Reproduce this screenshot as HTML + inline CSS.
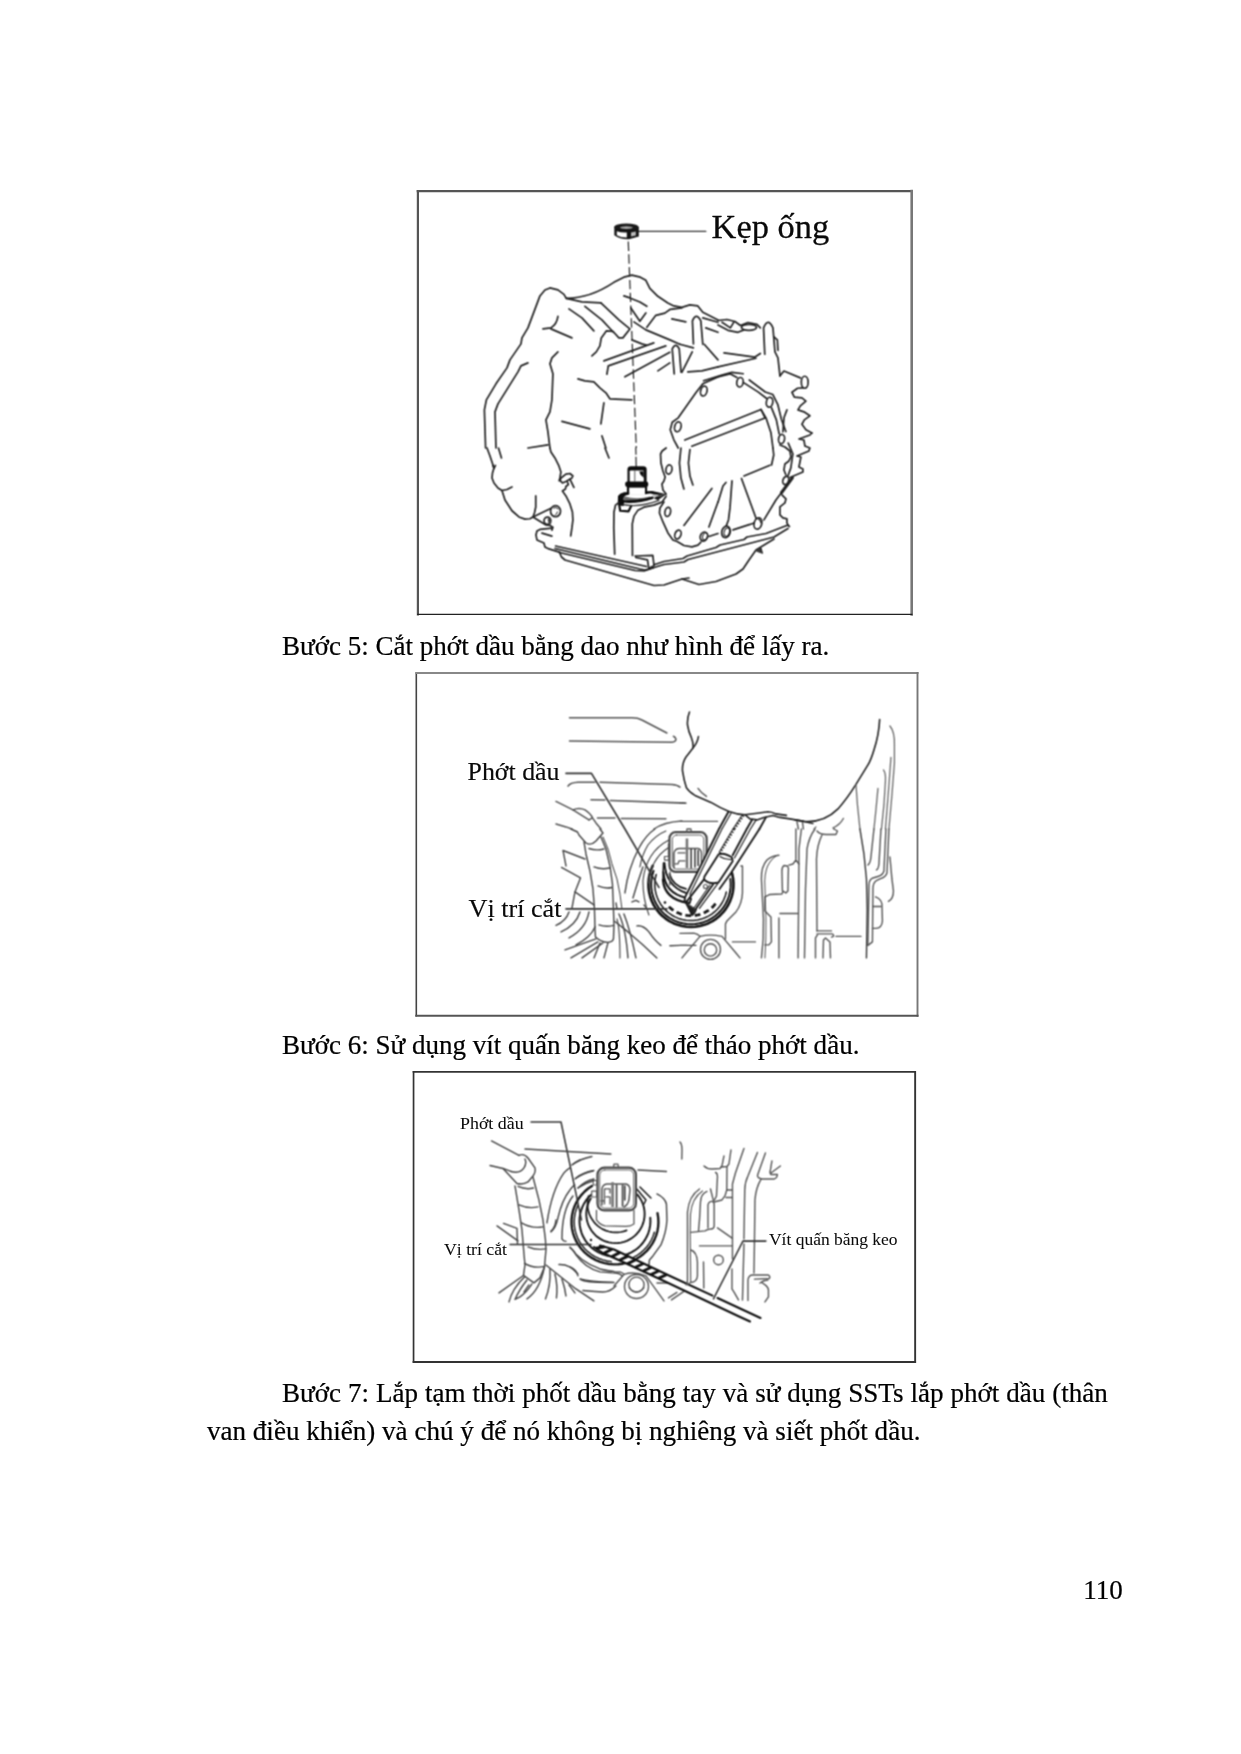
<!DOCTYPE html>
<html lang="vi">
<head>
<meta charset="utf-8">
<title>Trang 110</title>
<style>
html,body{margin:0;padding:0;background:#fff;}
body{width:1241px;height:1754px;position:relative;overflow:hidden;font-family:"Liberation Serif","DejaVu Serif",serif;color:#000;}
.t{position:absolute;white-space:nowrap;filter:grayscale(1);-webkit-text-stroke:0.22px #000;font-size:27.04px;line-height:30px;margin:0;}
svg{position:absolute;left:0;top:0;}
svg text{font-family:"Liberation Serif","DejaVu Serif",serif;fill:#0a0a0a;stroke:#0a0a0a;stroke-width:0;}
</style>
</head>
<body>
<p class="t" id="l5" style="left:282px;top:631px;">Bước 5: Cắt phớt dầu bằng dao như hình để lấy ra.</p>
<p class="t" id="l6" style="left:282px;top:1030px;">Bước 6: Sử dụng vít quấn băng keo để tháo phớt dầu.</p>
<p class="t" id="l7a" style="word-spacing:0.2px;left:282px;top:1378px;">Bước 7: Lắp tạm thời phốt dầu bằng tay và sử dụng SSTs lắp phớt dầu (thân</p>
<p class="t" id="l7b" style="word-spacing:0.07px;left:207px;top:1416px;">van điều khiển) và chú ý để nó không bị nghiêng và siết phốt dầu.</p>
<p class="t" id="pn" style="left:1083.3px;top:1575px;">110</p>
<svg id="art" width="1241" height="1754" viewBox="0 0 1241 1754" fill="none" stroke-linecap="round" stroke-linejoin="round">
<defs><filter id="b" x="-2%" y="-2%" width="104%" height="104%" color-interpolation-filters="sRGB"><feConvolveMatrix order="3" kernelMatrix="1 2 1 2 4 2 1 2 1" divisor="16" edgeMode="none" preserveAlpha="false"/></filter></defs>
<g id="frames" stroke-linecap="square">
<path d="M417.9 191 V614.4" stroke="#555" stroke-width="2.2"/><path d="M417.9 191.1 H911.7" stroke="#555" stroke-width="2.4"/><path d="M911.7 191.1 V614.4" stroke="#777" stroke-width="2.6"/><path d="M417.9 614.4 H911.7" stroke="#222" stroke-width="1.4"/>
<path d="M416.3 673 V1015.8" stroke="#444" stroke-width="1.6"/><path d="M416.3 673 H917.5" stroke="#888" stroke-width="1.9"/><path d="M917.5 673 V1015.8" stroke="#777" stroke-width="1.9"/><path d="M416.3 1015.8 H917.5" stroke="#555" stroke-width="2"/>
<path d="M413.55 1071.9 V1362" stroke="#333" stroke-width="1.7"/><path d="M413.55 1071.9 H915.15" stroke="#333" stroke-width="1.7"/><path d="M915.15 1071.9 V1362" stroke="#333" stroke-width="1.9"/><path d="M413.55 1362 H915.15" stroke="#333" stroke-width="1.8"/>
</g>

<g filter="url(#b)">
<g transform="translate(594,324) scale(0.19984)" stroke="#222" stroke-width="8.5">
<path d="M548 284 L640 256 L690 242 L747 249"/>
<path d="M777 280 L857 340 L895 353 L920 404 L938 478 L960 538"/>
<path d="M972 596 L995 650 L985 720 L970 762"/>
</g>
<g transform="translate(470,200) scale(0.19984)" stroke="#222" stroke-width="8.5">
<path d="M843 157 L1180 157" stroke-width="7.5" stroke="#333"/>
<path d="M792 208 L832 1241" stroke-width="6" stroke-dasharray="47 17" stroke-linecap="butt"/>
<!-- main outline -->
<path d="M78 1241 L72 1050 L82 1000 L130 920 L185 840 L200 800 L255 720 L260 690 L290 640 L320 560 L350 480 L375 450 L400 440 L440 450 L470 472 L482 492 Q600 492 720 412 L770 386 L810 376 L852 386 L880 402 L900 442 L940 482 L990 515 L1020 530 L1060 537 L1100 525 L1140 530 L1165 562 L1241 600"/>
<path d="M130 1241 L125 1060 L140 1020 L190 940 L240 860 L255 830 L290 815"/>
<!-- inner lines upper-left -->
<path d="M365 645 L405 640 Q435 620 440 582"/>
<path d="M405 645 L510 690"/>
<path d="M495 545 L560 590 L620 655"/>
<path d="M575 532 L660 600 L718 662"/>
<path d="M655 515 L745 600 L800 645 L765 690 L745 690 L715 657 L682 655 L657 690 L650 730 L632 760 L610 780"/>
<path d="M482 492 L560 510 L655 515"/>
<path d="M770 480 L800 490 L850 510 L885 532"/>
<path d="M805 540 L850 607 L880 565"/>
<path d="M885 637 L930 577 L975 566 L1002 547 L1060 540"/>
<path d="M1010 595 L1080 610"/>
<path d="M820 610 L880 650 L1000 700 L1050 722"/>
<path d="M810 700 L860 720 L882 726"/>
<path d="M670 805 L920 715"/>
<path d="M685 872 L692 830 L980 730"/>
<path d="M775 885 L1000 762"/>
<path d="M940 855 L1000 815"/>
<!-- pins -->
<path d="M1118 720 L1113 605 Q1132 560 1155 605 L1165 722"/>
<path d="M1022 870 L1012 745 Q1030 710 1047 745 L1056 862"/>
<path d="M1060 862 L1112 760"/>
<path d="M1090 860 L1160 855 L1241 835"/>
<path d="M1165 590 L1241 612"/>
<path d="M1180 640 L1241 662"/>
<path d="M1172 722 L1241 800"/>
<path d="M1050 722 L1118 740"/>
<!-- cover top-left -->
<path d="M1241 885 L1165 920 L1132 962 L1042 1090 L1012 1112 L1002 1150 L1020 1200 L1042 1241"/>
<ellipse cx="1170" cy="956" rx="16" ry="25" transform="rotate(15 1170 956)"/>
<ellipse cx="1040" cy="1135" rx="16" ry="25" transform="rotate(15 1040 1135)"/>
<!-- middle -->
<path d="M540 895 L575 905 L620 910 L650 940 L680 965 L700 995 L810 1000"/>
<path d="M670 1015 L655 1120"/>
<path d="M660 1180 L680 1241"/>
<path d="M460 1108 L600 1145"/>
<path d="M440 760 L410 790 L400 820 L415 870 L410 1000 L400 1060 L380 1100 L390 1160 L400 1241"/>
<path d="M290 1241 L390 1225"/>
</g>
<g transform="translate(718,200) scale(0.19984)" stroke="#222" stroke-width="8.5">
<!-- flange top-left -->
<path d="M0 603 L45 598 L85 608 L112 628 L150 613 L195 622 L212 640"/>
<ellipse cx="155" cy="637" rx="38" ry="15"/>
<path d="M0 625 L50 652 L100 662 L130 650"/>
<path d="M20 612 L62 640 L80 610"/>
<!-- tall pin -->
<path d="M234 772 L228 640 Q250 585 275 640 L285 760 L300 790 L310 880"/>
<path d="M280 685 L297 700 L300 752"/>
<path d="M30 765 L185 786 L212 768"/>
<path d="M0 835 L190 792"/>
<!-- cover top edge with bolts -->
<path d="M0 885 L60 870 L95 888"/>
<ellipse cx="110" cy="912" rx="16" ry="24" transform="rotate(10 110 912)"/>
<path d="M130 915 L200 960 L242 992"/>
<ellipse cx="258" cy="1012" rx="16" ry="25" transform="rotate(10 258 1012)"/>
<path d="M268 1040 L292 1100 L306 1170"/>
<ellipse cx="318" cy="1196" rx="15" ry="23" transform="rotate(10 318 1196)"/>
<path d="M215 1048 L240 1090 L265 1165 L275 1241"/>
<!-- right ribbed outline -->
<path d="M310 880 L330 856 L412 890"/>
<ellipse cx="434" cy="912" rx="17" ry="30"/>
<path d="M425 940 L398 942 L370 962 L382 986 L420 990 L440 1006 L412 1030 L400 1050 L430 1060 L460 1080 L432 1100 L420 1122 L440 1150 L470 1166"/>
<path d="M345 1050 L330 1090 L325 1160"/>
</g>
<g transform="translate(470,448) scale(0.09992)" stroke="#222" stroke-width="17.0">
<path d="M170 0 L200 80 L240 200 L225 250 L220 300 L240 350 L280 400 L320 425 L350 520 L420 628 L490 690 L550 712 L600 708 L630 690 L645 650 L658 590 L658 480"/>
<path d="M320 425 L370 415 L420 390"/>
<path d="M285 0 L315 100"/>
<path d="M228 170 L240 205 L255 175"/>
<path d="M800 0 L810 40 L850 100 L890 180 L910 240 L900 300 L892 328"/>
<path d="M905 305 L960 262 L1000 255 L1030 280 L1020 300 L960 335 L925 350 L905 330 Z"/>
<path d="M1000 312 L1040 395"/>
<path d="M975 340 L985 365 L960 385 L955 410 L925 430 L960 480 L1000 560 L1025 640 L1030 720 L1020 800 L1008 880"/>
<ellipse cx="856" cy="632" rx="50" ry="56"/>
<path d="M835 600 Q860 585 885 610 M875 640 Q870 665 850 675" stroke-width="10"/>
<path d="M630 690 L812 602"/>
<path d="M630 690 L760 770 L800 775 L830 792 L820 822"/>
<ellipse cx="775" cy="728" rx="34" ry="36"/>
<path d="M790 715 L800 755" stroke-width="26" stroke="#444"/>
<path d="M820 802 L700 815 L670 830 L660 870 L670 920 L740 950 L750 990 L790 1010 L900 1045"/>
<path d="M720 852 L820 882"/>
</g>
<g transform="translate(594,448) scale(0.09992)" stroke="#222" stroke-width="17.0">
<path d="M110 0 L130 50 L150 100"/>
<path d="M418 0 L420 62 M420 92 L422 185" stroke-width="12"/>
<!-- plug -->
<g stroke="none" fill="#0c0c0c">
<path d="M335 345 L335 215 Q335 183 370 183 L492 183 Q527 183 527 215 L527 345 Z"/>
<rect x="357" y="224" width="141" height="118" rx="8" fill="#fff"/>
<path d="M453 236 L498 232 L498 298 L466 268 Z"/>
<rect x="404" y="224" width="9" height="112" fill="#444"/>
<rect x="312" y="335" width="231" height="56" rx="22"/>
<rect x="329" y="385" width="203" height="76"/>
<rect x="352" y="397" width="158" height="66" fill="#fff"/>
<!-- flange ring -->
<path d="M352 440 L300 444 Q255 455 240 480 L238 560 Q262 585 300 578 L300 520 Q290 490 318 476 L352 466 Z"/>
<path d="M510 432 L583 430 L726 462 L640 520 L600 505 L650 470 L560 455 L510 462 Z"/>
<path d="M300 484 Q430 520 562 486 L575 500 Q430 552 290 520 Z" fill="#6a6a6a"/>
</g>
<g stroke="#0c0c0c" fill="none">
<path d="M262 530 Q420 552 585 498" stroke-width="26"/>
<path d="M252 566 L262 628 L346 634 L372 580" stroke-width="22"/>
<path d="M590 470 L700 468 M600 492 L680 480" stroke-width="9" stroke="#666"/>
<path d="M290 566 Q450 600 650 525" stroke-width="14" stroke="#3a3a3a"/>
</g>
<!-- tower -->
<path d="M207 1062 L198 800 L200 640 L215 572 L250 545"/>
<path d="M385 1076 L383 760 L400 682 L440 622 L500 592 L600 572 L680 542 L722 482"/>
<!-- cover left edge -->
<path d="M722 0 L682 30 L666 60 L670 150 L690 230 L712 290 L700 330 L680 360 L690 420 L722 460"/>
<path d="M700 540 L660 600 L655 650 L690 740 L740 850 L790 920 L832 936 L900 976 L980 990 L1040 972 L1070 942"/>
<ellipse cx="750" cy="215" rx="30" ry="46" transform="rotate(12 750 215)"/>
<ellipse cx="738" cy="640" rx="28" ry="46" transform="rotate(12 738 640)"/>
<ellipse cx="840" cy="866" rx="30" ry="46" transform="rotate(20 840 866)"/>
<ellipse cx="1100" cy="886" rx="36" ry="46" transform="rotate(20 1100 886)"/>
<ellipse cx="1112" cy="884" rx="24" ry="36" transform="rotate(20 1112 884)" stroke-width="10"/>
<path d="M1150 886 L1241 856"/>
<path d="M870 0 L855 150 L870 300 L900 410"/>
<path d="M960 15 L945 150 L960 280 L990 370"/>
<path d="M1180 405 L900 775"/>
<path d="M1241 540 L1150 790"/>
</g>
<g transform="translate(700,430) scale(0.09992)" stroke="#222" stroke-width="17.0">
<path d="M730 180 L738 250 L716 350"/>
<path d="M700 352 L440 460"/>
<path d="M415 485 L560 880"/>
<path d="M320 510 L300 780 L285 900 L262 962"/>
<path d="M260 525 L230 560 L181 720"/>
<ellipse cx="580" cy="935" rx="38" ry="58" transform="rotate(15 580 935)"/>
<path d="M560 890 Q600 880 610 930" stroke-width="12"/>
<ellipse cx="260" cy="1020" rx="42" ry="58" transform="rotate(15 260 1020)"/>
<ellipse cx="268" cy="1022" rx="26" ry="42" transform="rotate(15 268 1022)" stroke-width="11"/>
<path d="M330 1000 L500 945 L540 930"/>
<path d="M640 900 L760 700 L820 620"/>
<path d="M815 628 L925 478" stroke-width="30"/>
<path d="M800 150 L850 170 L900 210 L910 270 L890 310 L850 340 L840 400 L860 450"/>
<ellipse cx="858" cy="505" rx="28" ry="42" transform="rotate(20 858 505)"/>
<path d="M1120 30 L1100 50 L990 90 L1040 100 L1050 160 L1100 180 L1090 210 L970 260 L1010 270 L990 370 L1030 390 L1030 420 L900 475"/>
<path d="M820 650 L860 690 L850 730 L800 770 L800 850 L830 880 L870 890 L870 930 L885 960"/>
</g>
<g transform="translate(0,0) scale(1.00000)" stroke="#222" stroke-width="1.7">
<path d="M555.5 546 L646.5 566.5"/>
<path d="M555 548.5 L640 569 L645 570 L654 567.5"/>
<path d="M559.5 552.5 L635 570.5 L644 571 L653 568"/>
<path d="M559.5 552.5 L561.5 557 L565 560 L654 585.5 L664 585 L682 579 L699 584.5 L716 581.5 L736 574 L743 569 L749 560 L756 550 L760 547.5 L774 539"/>
<path d="M682 579 L689 578"/>
<path d="M635 556 L652.8 555.3 L654 565.5 L648.8 568.5 L647.5 559.8 L635.8 557.5"/>
<path d="M654 564.8 L664 561.5 L683 558.5 L687 556 L716 547.5 L720 545 L744 539.5 L747 537 L766 533.5 L788 525 L789.5 526.5"/>
<path d="M654 567.5 L664 564.5 L684 562 L688 559.5 L774 537 L788 528.5"/>
<path d="M757 551 L761 548 L762.5 553 Z" fill="#333" stroke-width="1"/>
<path d="M684.8 440 L761 409.5 L765 418"/>
<path d="M691.8 446.2 L765 418"/>
<g stroke="none">
<path d="M614.3 227 L614.3 235.2 Q620 239.6 629 239.3 L638.8 236.6 L638.8 227 Z" fill="#141414"/>
<ellipse cx="626.4" cy="227" rx="12.2" ry="3.5" fill="#181818"/>
<ellipse cx="626.4" cy="227.6" rx="6.4" ry="1.3" fill="#a8a8a8"/>
<path d="M616.8 231.2 Q621.5 232.8 626.8 232.4 L626.8 237.4 Q621 237.6 616.8 235.2 Z" fill="#fff"/>
<path d="M631 232.4 L635.8 231.6 L635.8 235.6 L631 236.6 Z" fill="#bbb"/>
</g>
</g>
<g transform="translate(630,820) scale(0.09992)" stroke="#222" stroke-width="17.0">
<!-- seal rings: center (610,645) -->
<g stroke="#161616">
<path d="M1010.3 499.3 L1023.5 542.7 L1032.1 587.3 L1035.8 632.5 L1034.7 677.9 L1028.8 722.9 L1018.1 767.0 L1002.8 809.8 L983.1 850.6 L959.1 889.2 L931.1 924.9 L899.5 957.5 L864.6 986.5 L826.8 1011.7 L786.6 1032.7 L744.3 1049.3 L700.5 1061.3 L655.7 1068.5 L610.4 1071.0 L565.1 1068.6 L520.3 1061.4 L476.4 1049.5 L434.2 1033.0 L393.9 1012.1 L356.0 987.0 L321.1 958.1 L289.4 925.5 L261.4 889.8 L237.3 851.4 L217.5 810.5 L202.1 767.8 L191.3 723.7 L185.3 678.7 L184.2 633.3 L187.8 588.1 L196.3 543.5 L209.4 500.1 L227.1 458.3" stroke-width="26"/>
<path d="M1004.1 589.6 L1007.8 631.9 L1006.9 674.4 L1001.5 716.5 L991.7 757.8 L977.5 797.9 L959.1 836.2 L936.7 872.3 L910.6 905.8 L881.1 936.4 L848.5 963.6 L813.2 987.2 L775.6 1006.9 L736.1 1022.5 L695.1 1033.8 L653.2 1040.6 L610.8 1043.0 L568.4 1040.8 L526.5 1034.1 L485.5 1023.0 L445.9 1007.6 L408.2 988.0 L372.8 964.6 L340.1 937.5 L310.4 907.0 L284.2 873.6 L261.7 837.6 L243.2 799.4 L228.8 759.4 L218.8 718.1 L213.2 676.0 L212.2 633.6 L215.6 591.2 L223.6 549.5 L236.0 508.9" stroke-width="20"/>
<path d="M964.1 720.3 L954.0 757.7 L940.0 793.8 L922.2 828.2 L900.9 860.5 L876.2 890.3 L848.4 917.4 L818.0 941.3 L785.1 961.8 L750.3 978.7 L713.8 991.8 L676.2 1000.9 L637.8 1005.9 L599.1 1006.8 L560.5 1003.6 L522.4 996.2 L485.4 984.9 L449.8 969.6 L416.0 950.6 L384.5 928.2 L355.5 902.5 L329.5 873.8 L306.6 842.5 L287.3 809.0 L271.6 773.5 L259.8 736.7 L252.0 698.7 L248.3 660.2 L248.8 621.4 L253.4 583.0 L262.0 545.2" stroke-width="15"/>
<path d="M856.6 837.7 L835.2 862.4 L811.2 884.8 L785.0 904.5 L756.9 921.4 L727.3 935.2 L696.3 945.9 L664.4 953.2 L631.8 957.2 L599.1 957.8 L566.4 955.0 L534.3 948.7 L502.9 939.1 L472.8 926.3 L444.1 910.4 L417.3 891.6 L392.6 870.2 L370.2 846.2" stroke-width="28" stroke-dasharray="58 36" stroke-linecap="butt"/>
<circle cx="350" cy="826" r="13" fill="#161616" stroke="none"/>
<!-- inner plug arcs -->
<path d="M330 600 Q345 790 575 830" stroke-width="23"/>
<path d="M335 520 Q345 730 565 780" stroke-width="21"/>
<path d="M345 430 Q360 660 560 730" stroke-width="19"/>
<path d="M395 540 Q430 660 560 690" stroke-width="17"/>
<path d="M330 600 L335 430" stroke-width="15.2"/>
</g>
<!-- connector -->
<g stroke="#555">
<rect x="395" y="122" width="372" height="398" rx="62" stroke-width="22" stroke="#484848"/>
<rect x="424" y="151" width="314" height="340" rx="42" stroke-width="9"/>
<path d="M565 122 L570 90 L610 90 L615 122" stroke-width="12.7"/>
<path d="M440 480 L440 335 Q445 290 490 285 L680 285 Q712 290 715 335 L715 470" stroke-width="15.2"/>
<path d="M570 185 L570 480" stroke-width="26" stroke="#777" stroke-linecap="butt"/>
<path d="M612 290 L612 480 M650 295 L650 470 M682 305 L682 455" stroke-width="15.2" stroke="#333"/>
<path d="M480 330 L550 330 M450 440 L480 440 L490 410 L550 410" stroke-width="12.7"/>
<rect x="345" y="365" width="45" height="36" stroke-width="11.4"/>
<path d="M385 240 L385 360" stroke-width="12.7"/>
<path d="M400 520 L398 650" stroke-width="12.7"/>
</g>
</g>
<g transform="translate(556,705) scale(0.09992)" stroke="#222" stroke-width="17.0">
<g stroke="#555" stroke-width="15.2">
<path d="M135 128 L760 128 Q820 128 860 150 L1110 280"/>
<path d="M135 360 L1160 372 Q1200 370 1200 340 Q1195 320 1175 312"/>
<path d="M120 812 Q140 775 220 772 L390 772 M440 772 L1160 795 Q1215 800 1241 822"/>
<path d="M350 948 L490 950 M545 955 L1300 982"/>
<path d="M415 1130 L590 1132 M655 1135 L1100 1138"/>
<path d="M0 965 L170 1050 L250 1100 L330 1150"/>
<path d="M170 1050 Q230 1020 290 1050 Q350 1090 365 1130 L330 1150"/>
<path d="M365 1130 L400 1180 L450 1241"/>
<path d="M0 1190 L100 1220 L160 1241"/>
<path d="M980 1241 Q1080 1170 1260 1160"/>
</g>
<path d="M100 685 L355 685 L690 1241 L1030 1826" stroke="#333" stroke-width="16.5"/>
</g>
<g transform="translate(680,705) scale(0.09992)" stroke="#222" stroke-width="17.0">
<g stroke="#222" stroke-width="16">
<path d="M95 70 Q70 130 75 200 Q85 270 115 330 Q135 380 130 430 Q100 470 60 520 Q20 580 25 660 Q40 760 65 830 Q90 870 150 905 L310 975 Q400 1030 490 1065 Q570 1095 650 1098 Q780 1085 880 1068 Q920 1070 960 1090 L1065 1105"/>
<path d="M650 1098 L700 1140 L770 1150 L840 1125 L930 1105 L1000 1125 L1100 1140 L1241 1165 L1330 1185"/>
<path d="M185 315 Q175 380 130 430" stroke-width="15.2"/>
</g>
<g stroke="#555" stroke-width="14">
<path d="M180 835 Q210 880 265 915"/>
<path d="M0 980 L40 980"/>
<path d="M0 1165 L375 1165"/>
<path d="M1170 1165 L1185 1241"/>
<path d="M1225 1170 L1235 1241"/>
</g>
<!-- knife upper -->
<g stroke="#1c1c1c" stroke-width="19">
<path d="M485 1068 L390 1241"/>
<path d="M512 1080 L420 1241" stroke-width="11.4"/>
<path d="M635 1105 L545 1241" stroke-width="22" stroke-dasharray="14 16" stroke-linecap="butt"/>
<path d="M622 1100 L530 1241" stroke-width="10.2"/>
<path d="M720 1150 L668 1241"/>
<path d="M762 1150 L705 1241" stroke-width="11.4"/>
<path d="M860 1125 L795 1241"/>
</g>
</g>
<g transform="translate(804,705) scale(0.09992)" stroke="#222" stroke-width="17.0">
<path d="M757 145 Q750 300 700 450 Q670 550 640 600 L520 795 Q430 940 340 1040 Q200 1180 0 1165 L-90 1150" stroke="#222" stroke-width="16"/>
<g stroke="#666" stroke-width="12.7">
<path d="M520 795 L535 1000 L560 1241"/>
<path d="M860 210 Q910 270 905 400 L905 580 L880 900 L850 1241"/>
<path d="M870 525 L850 800 L815 1241"/>
<path d="M795 650 Q820 680 815 760 L800 1000 L775 1241"/>
<path d="M740 835 L720 1050 L700 1241"/>
<path d="M395 1135 Q360 1200 290 1230 L300 1241"/>
<path d="M120 1220 L100 1241"/>
</g>
</g>
<g transform="translate(556,829) scale(0.09992)" stroke="#222" stroke-width="17.0">
<path d="M100 800 L1110 800" stroke="#333" stroke-width="16.5"/>
<g stroke="#444" stroke-width="14">
<!-- hose -->
<path d="M150 0 L215 30 L230 60 L300 140 Q350 170 400 120 L470 40 L440 0"/>
<path d="M280 130 L300 250 L340 420 L370 600 L385 800 L390 1000 L395 1080 Q450 1130 520 1135 Q570 1130 575 1100 L580 960 L575 800 L565 550 L540 370 L500 200 L450 80"/>
<path d="M470 80 L520 200 L560 350 L610 500 L640 650 L660 800" stroke-width="10.2"/>
<path d="M330 195 Q400 220 480 200"/>
<path d="M380 380 Q460 410 535 390"/>
<path d="M420 570 Q490 600 560 585"/>
<path d="M430 960 Q500 985 575 965"/>
<!-- bracket -->
<path d="M100 370 L70 215 L290 300"/>
<path d="M55 385 L245 490 L190 630 L380 760"/>
<path d="M190 630 L160 790"/>
<!-- wires lower-left -->
<path d="M130 830 Q100 920 0 965"/>
<path d="M240 830 Q200 960 50 1030"/>
<path d="M330 830 Q300 1000 130 1090"/>
<path d="M390 980 Q350 1080 200 1160"/>
<path d="M90 1210 L400 1100"/>
<path d="M150 1290 L420 1130"/>
<path d="M260 1290 L470 1140"/>
<path d="M440 1140 L380 1290"/>
<path d="M520 1140 L480 1290"/>
<path d="M600 740 L610 800"/>
<path d="M630 850 Q700 1000 720 1290"/>
<path d="M680 850 Q740 1000 800 1290"/>
<path d="M590 925 L720 1030 L860 1150 L1010 1290"/>
<path d="M610 900 Q640 1000 640 1290" stroke-width="11.4"/>
<!-- arcs right of hose -->
<path d="M690 640 Q720 400 830 190 Q900 60 990 0"/>
<path d="M770 690 Q820 520 870 380"/>
<path d="M760 730 L800 715 L830 730"/>
<path d="M880 760 L895 780"/>
<path d="M810 970 Q870 960 930 1030 Q990 1120 1050 1165"/>
<path d="M1140 1168 L1241 1165 L1400 1165"/>
<!-- outer arcs around seal -->
<path d="M1130 110 Q900 230 870 520 Q870 700 930 860" stroke-width="11.4"/>
<path d="M1120 190 Q950 300 925 540" stroke-width="11.4"/>
<path d="M1100 20 Q1000 60 920 160 Q860 260 840 380" stroke-width="11.4"/>
</g>
</g>
<g transform="translate(680,829) scale(0.09992)" stroke="#222" stroke-width="17.0">
<!-- knife lower -->
<path d="M390 0 L795 0 L510 440 L385 560 L195 795 L122 862 L60 740 L45 720 L50 685 Z" fill="#fff" stroke="none"/>
<g stroke="#1c1c1c" stroke-width="19">
<path d="M390 0 L50 685 L45 720 L95 745 L110 700"/>
<path d="M420 0 L100 650 L110 700" stroke-width="11.4"/>
<path d="M545 0 L400 240" stroke-width="22" stroke-dasharray="14 16" stroke-linecap="butt"/>
<path d="M530 0 L392 232" stroke-width="10.2"/>
<path d="M668 0 L527 262"/>
<path d="M705 0 L545 290" stroke-width="11.4"/>
<path d="M795 0 L510 440 L395 600"/>
<path d="M385 255 Q440 232 520 285 L527 322 L385 535 Q300 562 240 505 L245 475 Z"/>
<path d="M400 275 Q450 310 515 305" stroke-width="11.4"/>
<path d="M240 505 L60 735"/>
<path d="M330 555 L165 790 L150 830 L122 862 L60 740" stroke-width="19"/>
<path d="M60 740 L122 862 L150 800 Z" fill="#222" stroke-width="8"/>
<path d="M380 545 L195 795" stroke-width="11.4"/>
<path d="M300 560 L140 790" stroke-width="10.2"/>
<circle cx="255" cy="575" r="20" stroke-width="11.4" stroke="#555"/>
</g>
<!-- right housing -->
<g stroke="#555" stroke-width="14">
<path d="M610 370 L625 370 L625 640 Q620 750 560 830 L470 920 L455 950 L455 1100"/>
<path d="M815 1290 Q840 1100 835 900 L815 500 Q810 380 870 310 Q920 265 990 262"/>
<path d="M850 1290 Q862 1100 860 900 L848 520 Q850 400 900 330 Q930 290 960 272" stroke-width="10.2"/>
<path d="M1040 365 Q1020 380 1020 420 L1025 620 L1060 640 L1080 620 L1085 390 L1075 370 Z"/>
<path d="M1090 362 L1130 350 L1160 310 L1190 350"/>
<path d="M1160 0 L1160 300"/>
<path d="M1215 0 L1190 200 L1190 350 L1182 1290"/>
<path d="M850 680 L900 655 L1020 650 L1030 625"/>
<path d="M850 680 L850 820 L890 860 L910 880 L915 1130 L890 1160 L850 1160"/>
<path d="M1000 845 L1175 845"/>
<path d="M990 890 L990 1290"/>
<path d="M525 1130 L755 1130"/>
<path d="M200 1075 Q300 1050 420 1075 L560 1241 L600 1290"/>
<path d="M200 1075 L60 1241 L20 1290"/>
<path d="M0 1045 L140 1042 Q180 1050 200 1075"/>
<circle cx="305" cy="1205" r="100"/>
<circle cx="305" cy="1210" r="62"/>
<path d="M0 1165 L70 1165"/>
</g>
</g>
<g transform="translate(804,829) scale(0.09992)" stroke="#222" stroke-width="17.0">
<g stroke="#555" stroke-width="14">
<path d="M110 0 Q50 80 30 200 L15 600 L5 1290"/>
<path d="M130 20 Q160 55 220 55 L320 55 L335 20 L300 0"/>
<path d="M180 60 Q130 160 125 300 L130 1020"/>
<path d="M130 1020 L275 1020"/>
<path d="M130 1050 L280 1050 Q300 1055 295 1075 L275 1082"/>
<path d="M115 1290 L115 1090 L135 1060"/>
<path d="M190 1290 L195 1110 L215 1090 L260 1130 L265 1290"/>
<path d="M320 1075 L570 1075"/>
<path d="M560 0 L600 250 L625 500 L632 800 L625 1290" stroke="#333" stroke-width="14"/>
<path d="M700 0 L670 280 Q665 340 640 360"/>
<path d="M770 0 L750 350 Q745 400 725 410"/>
<path d="M820 0 L800 420 Q790 460 740 475 L690 490 Q650 510 650 560 L640 1160"/>
<path d="M850 0 L830 440 Q820 480 760 500 L720 520 Q690 540 690 600 L685 1130 L640 1165"/>
<path d="M860 280 L880 500 L895 620 Q895 700 845 725"/>
<path d="M715 680 Q770 700 780 750 L785 920 Q780 990 720 995 L685 995"/>
<path d="M690 775 L770 775"/>
</g>
</g>
<g transform="translate(490,1220) scale(0.09992)" stroke="#222" stroke-width="17.0">
<g stroke="#444" stroke-width="14">
<path d="M335 555 L90 730"/>
<path d="M345 570 Q220 690 190 820"/>
<path d="M370 600 Q290 700 250 795 L300 770 Q370 720 420 640"/>
<path d="M390 650 L340 720"/>
<path d="M545 470 Q500 700 370 790"/>
<path d="M600 490 Q610 650 555 790"/>
<path d="M650 540 Q680 660 665 780"/>
<path d="M720 590 Q750 680 760 760"/>
<path d="M790 650 L850 730"/>
<path d="M560 450 L860 690 L1040 810"/>
<path d="M690 445 Q800 440 880 540"/>
<path d="M905 595 Q960 630 1241 625"/>
<path d="M1260 660 Q1200 720 1130 720 L1050 715 L930 705"/>
<path d="M800 270 Q900 420 1100 490 Q1180 510 1241 515"/>
<path d="M610 110 Q650 80 660 0"/>
</g>
</g>
<g transform="translate(614,1220) scale(0.09992)" stroke="#222" stroke-width="17.0">
<g stroke="#555" stroke-width="14">
<circle cx="225" cy="665" r="120"/>
<circle cx="225" cy="648" r="76"/>
<path d="M152 680 Q225 760 300 680" stroke-width="11.4"/>
<path d="M0 520 L60 520 Q90 530 100 545 L0 660"/>
<path d="M100 545 Q200 510 320 560 L500 810"/>
<path d="M430 630 L570 630"/>
<path d="M545 780 L630 725"/>
<path d="M575 800 L700 715"/>
<path d="M770 300 Q830 320 835 420 L835 560 Q830 620 770 625"/>
</g>
</g>
<g transform="translate(700,1240) scale(0.09992)" stroke="#222" stroke-width="17.0">
<g stroke="#555" stroke-width="14">
<path d="M320 290 L320 490 L345 530 L385 600"/>
<path d="M440 40 L425 600"/>
<path d="M545 30 L540 330"/>
<path d="M480 605 L480 400 Q485 350 530 350 L680 350 Q705 360 695 385 L545 392"/>
<path d="M600 430 Q640 400 680 400"/>
<path d="M615 425 Q680 460 685 500 L685 570 L650 620"/>
<circle cx="185" cy="200" r="48"/>
<path d="M35 220 L38 480"/>
</g>
</g>
<g transform="translate(570,1160) scale(0.09992)" stroke="#222" stroke-width="17.0">
<!-- seal rings -->
<g stroke="#1a1a1a">
<path d="M875.5 531.6 L882.7 576.3 L885.0 621.4 L882.4 666.6 L874.9 711.2 L862.6 754.8 L845.6 796.8 L824.1 836.9 L798.4 874.5 L768.8 909.2 L735.5 940.6 L699.1 968.5 L659.8 992.3 L618.1 1012.0 L574.5 1027.2 L529.5 1037.8 L483.7 1043.7 L437.4 1044.8 L391.3 1041.1 L345.8 1032.6 L301.6 1019.5 L259.0 1001.8 L218.5 979.8 L180.7 953.8 L146.0 924.0 L114.6 890.7 L87.1 854.3 L63.7 815.4 L44.6 774.2 L30.2 731.2 L20.4 687.0 L15.6 642.1 L15.6 596.9 L20.6 551.9 L30.5 507.7 L45.0 464.8 L64.2 423.7 L87.7 384.7 L115.3 348.5 L146.8 315.3 L181.6 285.5 L219.5 259.6" stroke-width="24"/>
<path d="M414.4 1016.5 L371.4 1010.5 L329.2 1000.2 L288.4 985.5 L249.4 966.6 L212.8 943.8 L178.8 917.3 L147.9 887.5 L120.4 854.6 L96.7 819.0 L77.0 781.2 L61.5 741.5 L50.4 700.5 L43.9 658.5 L42.0 616.1 L44.8 573.8 L52.1 532.0 L64.0 491.2 L80.2 451.8" stroke-width="14"/>
<path d="M844.1 723.0 L830.9 762.6 L813.5 800.7 L792.2 836.8 L767.1 870.5 L738.5 901.4 L706.8 929.3 L672.2 953.8 L635.2 974.6 L596.2 991.6 L555.6 1004.4" stroke-width="14"/>
<path d="M803.6 579.1 L804.9 617.0 L802.2 654.9 L795.3 692.2 L784.6 728.7 L770.0 763.7 L751.7 797.0 L730.0 828.2 L705.1 856.8 L677.3 882.7 L646.9 905.4 L614.2 924.7 L579.7 940.5 L543.6 952.4 L506.5 960.5 L468.7 964.5 L430.8 964.5 L393.0 960.4 L355.9 952.3 L319.9 940.3 L285.4 924.5 L252.7 905.1 L222.3 882.4 L194.5 856.5 L169.7 827.8 L148.0 796.6 L129.8 763.3 L115.3 728.2 L104.5 691.8 L97.8 654.4 L95.1 616.5 L96.4 578.6 L101.8 541.0 L111.1 504.2 L124.4 468.6 L141.3 434.6 L161.8 402.7 L185.6 373.1 L212.5 346.2" stroke-width="20"/>
<path d="M672.0 344.6 L691.4 368.6 L708.1 394.4 L722.1 421.9 L733.0 450.7 L740.9 480.5 L745.5 510.9 L747.0 541.7 L745.2 572.5 L740.2 602.8 L731.9 632.5 L720.7 661.2 L706.4 688.5 L689.4 714.2 L669.7 737.9 L647.7 759.4 L623.5 778.5 L597.4 794.9 L569.8 808.5 L540.8 819.1 L511.0 826.6 L480.4 830.9 L449.7 832.0 L418.9 829.8 L388.6 824.4 L359.0 815.8 L330.5 804.1 L303.4 789.5 L277.9 772.2 L254.4 752.2 L233.2 729.9 L214.4 705.5 L198.3 679.2 L185.1 651.4 L174.9 622.4 L167.7 592.4 L163.8 561.8 L163.1 531.0 L165.7 500.3 L171.5 470.1 L180.4 440.6 L192.4 412.2 L207.4 385.3" stroke-width="19"/>
<path d="M566.8 704.2 L538.1 714.1 L508.6 720.8 L478.5 724.4 L448.2 724.8 L418.0 721.9 L388.3 715.8 L359.4 706.7 L331.7 694.5 L305.4 679.4 L280.8 661.6 L258.3 641.4 L238.1 618.8 L220.3 594.2 L205.3 567.9 L193.2 540.1 L184.0 511.2 L178.0 481.5 L175.2 451.4 L175.6 421.1 L179.2 391.0 L186.0 361.4" stroke-width="17"/>
<path d="M660 280 L760 400 L740 440" stroke-width="15.2"/>
<path d="M700 270 L810 380" stroke-width="15.2"/>
<circle cx="210" cy="800" r="12" fill="#1a1a1a" stroke="none"/>
</g>
<!-- connector -->
<g stroke="#555">
<rect x="275" y="77" width="385" height="428" rx="70" stroke-width="22" stroke="#484848"/>
<rect x="298" y="100" width="339" height="382" rx="50" stroke-width="8.9"/>
<path d="M435 77 L440 42 L480 42 L485 77" stroke-width="12.7"/>
<path d="M320 450 L320 290 Q325 245 370 240 L560 240 Q600 250 600 300 L590 400 Q580 450 540 470" stroke-width="15.2"/>
<path d="M426 222 L426 470" stroke-width="26" stroke="#777" stroke-linecap="butt"/>
<path d="M466 250 L466 470 M526 250 L526 460 M548 260 L548 400" stroke-width="16.5" stroke="#444"/>
<path d="M400 330 L400 290 L345 290 L345 440 M360 370 L400 370 L400 440 M310 410 L345 410" stroke-width="12.7"/>
<rect x="232" y="205" width="38" height="45" stroke-width="11.4"/>
<rect x="217" y="312" width="50" height="58" stroke-width="11.4"/>
<path d="M265 505 L265 600 Q300 650 350 660 L560 665 L600 660 L640 640 L640 505" stroke-width="12.7"/>
</g>
<g stroke="#444" stroke-width="14">
<path d="M-390 -380 L-90 -380 L115 600" stroke="#333" stroke-width="15.2"/>
<path d="M-600 845 L210 845" stroke="#333" stroke-width="15.2"/>
<path d="M680 100 L965 115"/>
<path d="M870 340 Q950 380 965 440 L970 600 Q965 720 910 850 L830 960 L795 1000 L790 1050"/>
<!-- arcs upper-left -->
<path d="M20 50 Q60 20 100 0"/>
<path d="M50 190 Q130 130 230 110"/>
<path d="M80 280 Q150 210 240 190"/>
<!-- bottom left -->
<path d="M0 880 Q40 900 60 950 Q150 1080 300 1120 L420 1130 Q500 1130 520 1160"/>
<path d="M0 1070 Q60 1090 80 1160"/>
<path d="M100 1190 Q200 1220 430 1225"/>
</g>
</g>
<g transform="translate(0,0) scale(1.00000)" stroke="#222" stroke-width="1.7">
<path d="M600 1245.5 L614 1249.5 L670 1276 L738 1307.5 L760.5 1318 L750 1321.5 L738 1316 L664 1281 L622 1261.5 L603 1253 L594 1247 Z" fill="#fff" stroke="none"/>
<g stroke="#111" stroke-width="2.1">
<path d="M600 1245.5 L614 1249.5 L670 1276 L712.5 1295.6 M717.5 1298 L760.5 1318"/>
<path d="M594 1247 L603 1253 L622 1261.5 L664 1281 L738 1316 L750 1321.5"/>
<path d="M596.0 1248.3 L604.5 1246.8 M603.8 1253.4 L612.3 1249.0 M611.6 1256.8 L620.1 1252.4 M619.4 1260.3 L627.9 1256.1 M627.2 1263.9 L635.7 1259.8 M635.0 1267.5 L643.5 1263.5 M642.8 1271.2 L651.3 1267.2 M650.6 1274.8 L659.1 1270.8 M658.4 1278.4 L666.9 1274.5" stroke-width="2.9" stroke-linecap="butt"/>
</g>
</g>
<g transform="translate(490,1130) scale(0.09992)" stroke="#222" stroke-width="17.0">
<g stroke="#444" stroke-width="14">
<path d="M350 190 L1210 240"/>
<path d="M15 110 L290 255"/>
<path d="M0 355 L130 385 L210 415"/>
<path d="M290 255 Q340 230 380 280 L450 380 Q460 420 430 460 L380 520 Q330 550 270 535 L130 385"/>
<path d="M210 415 Q300 440 340 380 Q370 330 350 290"/>
<path d="M250 560 L290 800 L320 1000 L340 1241 L350 1350 L335 1455"/>
<path d="M430 470 L490 700 L530 900 L555 1100 L560 1200 L545 1370 L500 1480 L440 1530 L335 1455"/>
<path d="M280 565 Q360 600 435 580"/>
<path d="M290 750 Q380 790 480 770"/>
<path d="M315 930 Q420 990 530 970"/>
<path d="M380 1170 Q460 1205 560 1190"/>
<path d="M345 1335 Q440 1390 548 1365"/>
<path d="M135 935 L270 985 L275 1140"/>
<path d="M70 960 L280 1110"/>
<path d="M570 930 Q620 600 740 430 Q780 390 800 380"/>
<path d="M825 345 Q900 290 1020 265"/>
<path d="M610 1020 Q660 980 680 880 Q720 700 800 600 Q830 560 850 550"/>
<path d="M860 480 Q940 420 1040 405"/>
<path d="M880 580 Q950 530 1040 505"/>
<path d="M760 1115 L740 1110 L720 1090 Q720 800 830 660"/>
</g>
</g>
<g transform="translate(678,1140) scale(0.09992)" stroke="#222" stroke-width="17.0">
<g stroke="#555" stroke-width="14">
<path d="M20 20 Q40 40 40 100 L38 190"/>
<path d="M260 260 Q290 290 340 290 L420 285 L440 260 L460 160"/>
<path d="M430 270 L490 265 L510 240 L530 100"/>
<path d="M375 325 Q395 330 395 370 L385 560 L365 600"/>
<path d="M490 270 L488 500 L470 560 L440 600 L360 620"/>
<path d="M488 500 L545 500 M480 575 L545 575"/>
<path d="M660 85 L575 330 L545 440 L545 1190"/>
<path d="M795 125 L700 360 Q670 420 668 500 L660 990"/>
<path d="M875 130 L800 340 L795 360 Q800 385 840 390 L960 390 Q990 385 995 345 L930 345 Q915 330 925 300 L940 210"/>
<path d="M930 330 L1025 260"/>
<path d="M830 395 Q780 480 770 600 L765 1030"/>
<path d="M215 490 Q110 560 95 720 L95 1400 Q95 1440 80 1450"/>
<path d="M245 510 Q140 580 125 740 L122 930 L127 1420 L100 1450" stroke-width="11.4"/>
<path d="M290 515 Q230 540 225 620 L215 800 L205 910"/>
<path d="M325 490 L355 610"/>
<path d="M300 880 L300 650 Q310 610 345 615 Q365 625 362 660 L362 860 Q360 890 330 890 L290 900 L270 910 L130 925"/>
<path d="M395 880 L545 985"/>
<path d="M215 1060 L545 1060"/>
</g>
<path d="M880 1012 L650 1012 L355 1590" stroke="#333" stroke-width="15.2"/>
</g>
</g>
<g transform="translate(0,0) scale(1.00000)" stroke="#222" stroke-width="1.7">
<text style="stroke-width:0.28px" x="711.6" y="238" font-size="34.4" textLength="117.5" lengthAdjust="spacingAndGlyphs">Kẹp ống</text>
</g>
<g transform="translate(0,0) scale(1.00000)" stroke="#222" stroke-width="1.7">
<text style="stroke-width:0.16px" x="467.5" y="780" font-size="25" textLength="92" lengthAdjust="spacingAndGlyphs">Phớt dầu</text>
<text style="stroke-width:0.16px" x="468.5" y="916.8" font-size="25" textLength="93" lengthAdjust="spacingAndGlyphs">Vị trí cắt</text>
</g>
<g transform="translate(0,0) scale(1.00000)" stroke="#222" stroke-width="1.7">
<text style="stroke-width:0.05px" x="460" y="1128.6" font-size="17" textLength="63.6" lengthAdjust="spacingAndGlyphs">Phớt dầu</text>
<text style="stroke-width:0.05px" x="444" y="1255" font-size="17" textLength="63" lengthAdjust="spacingAndGlyphs">Vị trí cắt</text>
<text style="stroke-width:0.05px" x="769" y="1245" font-size="17" textLength="128.5" lengthAdjust="spacingAndGlyphs">Vít quấn băng keo</text>
</g>
</svg>
</body>
</html>
